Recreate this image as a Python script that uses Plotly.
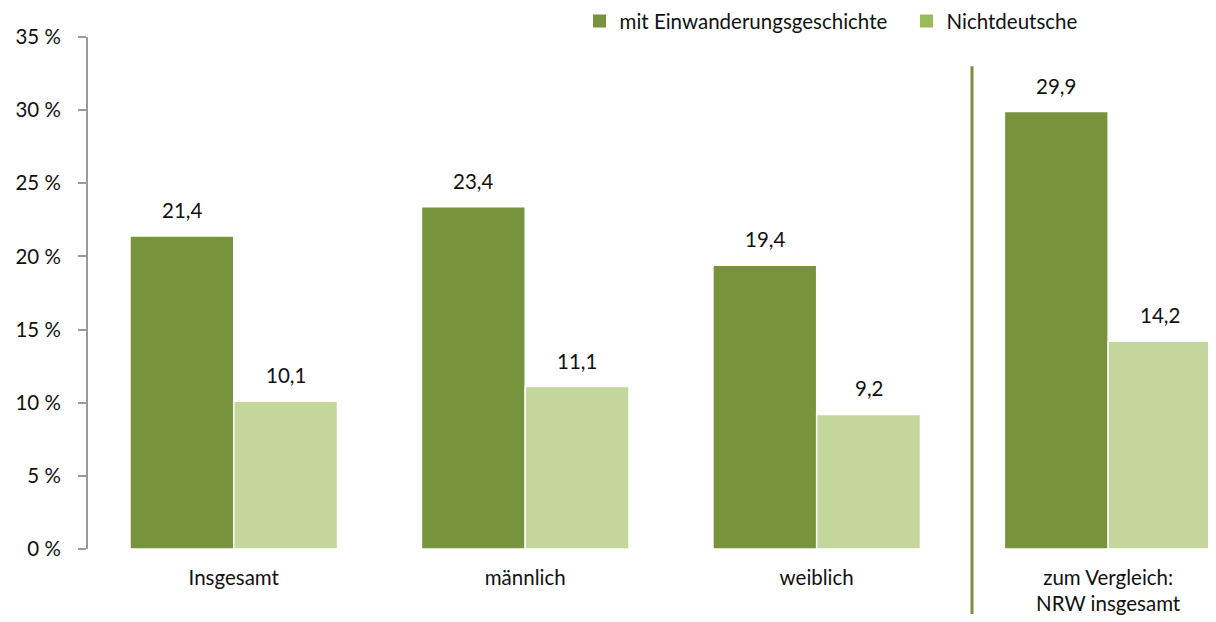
import plotly.graph_objects as go

categories = ["Insgesamt", "männlich", "weiblich", "zum Vergleich:<br>NRW insgesamt"]
series_names = ["mit Einwanderungsgeschichte", "Nichtdeutsche"]
mit_einwanderung = [21.4, 23.4, 19.4, 29.9]
nichtdeutsche = [10.1, 11.1, 9.2, 14.2]
tick_values = [0, 5, 10, 15, 20, 25, 30, 35]
tick_labels = ["0 %", "5 %", "10 %", "15 %", "20 %", "25 %", "30 %", "35 %"]

bar_colors = ["#77933C", "#C3D69B"]
legend_colors = ["#77933C", "#9BBB59"]
FONT = "Lato"
FS = 20.5
TXT = "#111111"

fig = go.Figure()
for name, vals, col in zip(series_names, [mit_einwanderung, nichtdeutsche], bar_colors):
    fig.add_trace(go.Bar(
        x=categories, y=vals, name=name, showlegend=False,
        marker=dict(color=col, line=dict(color="white", width=1.5)),
        hoverinfo="skip",
    ))

for name, col in zip(series_names, legend_colors):
    fig.add_trace(go.Scatter(
        x=[None], y=[None], mode="markers", name=name,
        marker=dict(symbol="square", size=13, color=col),
    ))

# data labels
for vals, shift in zip([mit_einwanderung, nichtdeutsche], [-52, 52]):
    for c, v in zip(categories, vals):
        fig.add_annotation(
            x=c, y=v, text=f"{v:.1f}".replace(".", ","), showarrow=False,
            xshift=shift, yshift=12, yanchor="bottom",
            font=dict(family=FONT, size=FS, color=TXT),
        )

# separator line
fig.add_shape(type="line", xref="paper", yref="paper",
              x0=0.7837, x1=0.7837, y0=0.943, y1=-0.127,
              line=dict(color="#77933C", width=3))

fig.update_layout(
    width=1216, height=622,
    margin=dict(l=80, r=8, t=29, b=81, autoexpand=False),
    paper_bgcolor="white", plot_bgcolor="white",
    barmode="group", bargap=0.288, bargroupgap=0,
    font=dict(family=FONT, size=FS, color=TXT),
    legend=dict(orientation="h", xref="container", yref="container",
                x=0.470, xanchor="left", y=0.979, yanchor="middle",
                font=dict(family=FONT, size=FS, color=TXT),
                entrywidth=282, entrywidthmode="pixels",
                bgcolor="rgba(0,0,0,0)"),
    xaxis=dict(range=[-0.5, 3.37], showline=False, showgrid=False, zeroline=False,
               automargin=False,
               ticks="", ticklabelstandoff=14, tickfont=dict(family=FONT, size=FS, color=TXT)),
    yaxis=dict(range=[0, 35], tickvals=tick_values, ticktext=tick_labels,
               automargin=False,
               showline=True, linecolor="#9A9A9A", linewidth=2,
               ticks="outside", ticklen=8, tickcolor="#9A9A9A", tickwidth=2,
               showgrid=False, zeroline=False, ticklabelstandoff=13,
               tickfont=dict(family=FONT, size=FS, color=TXT)),
)

fig.write_html("out.html")
